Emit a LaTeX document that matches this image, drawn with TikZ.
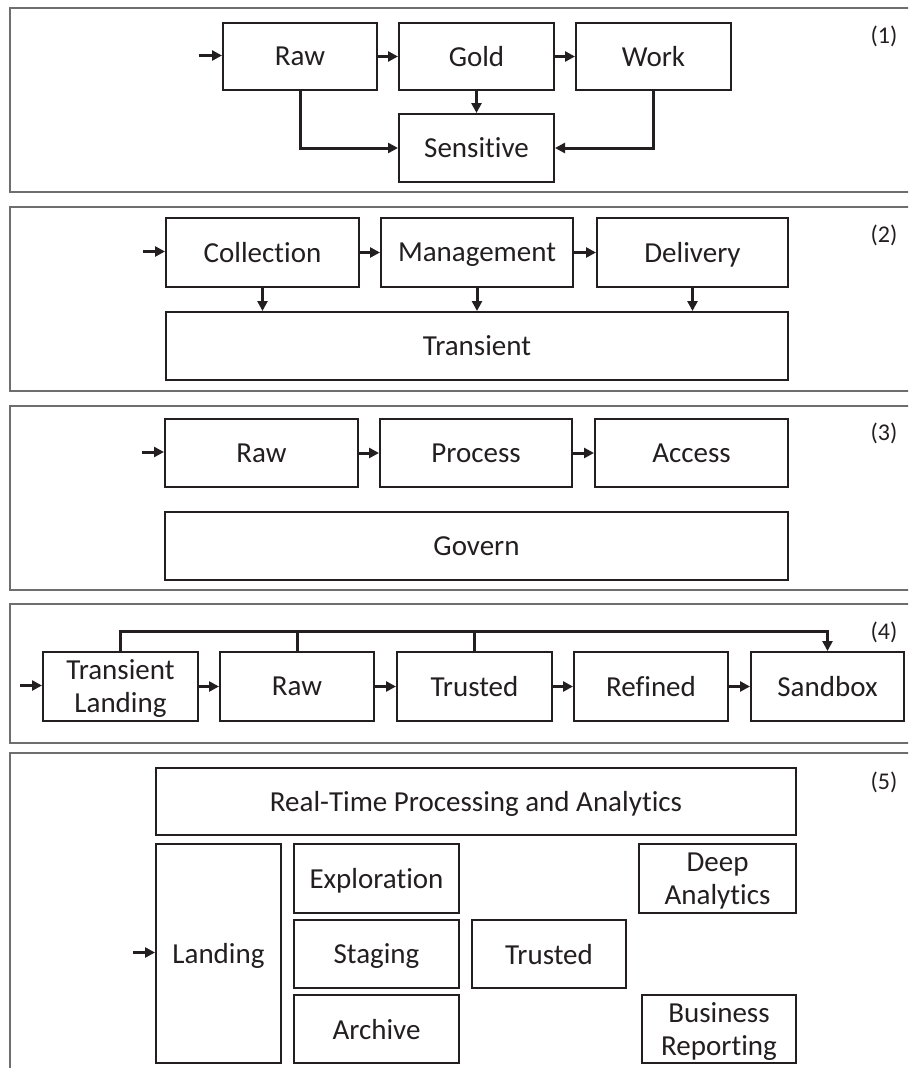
\documentclass[tikz,border=0pt]{standalone}
\usepackage{fontspec}
\setmainfont{Carlito}[Ligatures=NoCommon]
\usetikzlibrary{arrows.meta}
\definecolor{ink}{HTML}{231F20}
\definecolor{framecol}{HTML}{6E6E6E}
\tikzset{
  box/.style={draw=ink, line width=2pt, rectangle, inner sep=0pt, align=center,
    text=ink, text depth=0pt, font=\fontsize{29}{33}\selectfont},
  frame/.style={draw=framecol, line width=1.3pt},
  conn/.style={draw=ink, line width=3pt, line join=miter},
  arr/.style={conn, -{Triangle[length=10pt,width=10pt]}},
  tag/.style={text=ink, font=\fontsize{24}{28}\selectfont, inner sep=0pt}
}
% box from its top-left corner (x1,y1) to its bottom-right corner (x2,y2)
\newcommand\mkbox[6]{%
  \node[box, anchor=north west, minimum width={#4pt-#2pt}, minimum height={#5pt-#3pt}]
    (#1) at (#2,#3) {#6};}
\begin{document}
\begin{tikzpicture}[x=1pt, y=-1pt]
\useasboundingbox[fill=white] (0,0) rectangle (908,1068);
\clip (0,0) rectangle (908,1068);

% panel frames
\draw[frame] (10,8) rectangle (920,192);
\draw[frame] (10,207) rectangle (920,391);
\draw[frame] (10,406) rectangle (920,590);
\draw[frame] (10,604) rectangle (920,743);
\draw[frame] (10,753) rectangle (920,1080);

% (1)
\node[tag] (t1) at (884,36) {(1)};
\mkbox{raw1}{222}{22}{376}{89}{Raw}
\mkbox{gold1}{398}{22}{553}{89}{Gold}
\mkbox{work1}{575}{22}{730}{89}{Work}
\mkbox{sens1}{398}{113}{553}{181}{Sensitive}
\coordinate (in1) at (199,55.5);
\draw[arr] (in1) -- (in1 -| raw1.west);
\draw[arr] (raw1.east) -- (gold1.west);
\draw[arr] (gold1.east) -- (work1.west);
\draw[arr] (raw1.south) |- (sens1.west);
\draw[arr] (gold1.south) -- (sens1.north);
\draw[arr] (work1.south) |- (sens1.east);

% (2)
\node[tag] (t2) at (884,235) {(2)};
\mkbox{coll}{165}{217}{358}{286}{Collection}
\mkbox{mgmt}{380}{217}{572}{286}{Management}
\mkbox{deli}{596}{217}{787}{286}{Delivery}
\mkbox{tran}{165}{311}{787}{379}{Transient}
\coordinate (in2) at (143,251.5);
\draw[arr] (in2) -- (in2 -| coll.west);
\draw[arr] (coll.east) -- (mgmt.west);
\draw[arr] (mgmt.east) -- (deli.west);
\draw[arr] (coll.south) -- (coll.south |- tran.north);
\draw[arr] (mgmt.south) -- (mgmt.south |- tran.north);
\draw[arr] (deli.south) -- (deli.south |- tran.north);

% (3)
\node[tag] (t3) at (884,433) {(3)};
\mkbox{raw3}{164}{418}{357}{486}{Raw}
\mkbox{proc}{379}{418}{571}{486}{Process}
\mkbox{acce}{594}{418}{787}{486}{Access}
\mkbox{gove}{164}{511}{787}{579}{Govern}
\coordinate (in3) at (142,452);
\draw[arr] (in3) -- (in3 -| raw3.west);
\draw[arr] (raw3.east) -- (proc.west);
\draw[arr] (proc.east) -- (acce.west);

% (4)
\node[tag] (t4) at (884,632) {(4)};
\mkbox{tl}{42}{651}{197}{720}{Transient\\Landing}
\mkbox{raw4}{219}{651}{373}{720}{Raw}
\mkbox{trus4}{396}{651}{551}{720}{Trusted}
\mkbox{refi}{573}{651}{727}{720}{Refined}
\mkbox{sand}{750}{651}{903}{720}{Sandbox}
\coordinate (in4) at (20,685.5);
\coordinate (bus) at (0,631);
\draw[arr] (in4) -- (in4 -| tl.west);
\draw[arr] (tl.east) -- (raw4.west);
\draw[arr] (raw4.east) -- (trus4.west);
\draw[arr] (trus4.east) -- (refi.west);
\draw[arr] (refi.east) -- (sand.west);
\draw[arr] (tl.north) -- (tl.north |- bus) -- (bus -| sand.north) -- (sand.north);
\draw[conn] (raw4.north) -- (raw4.north |- bus);
\draw[conn] (trus4.north) -- (trus4.north |- bus);

% (5)
\node[tag] (t5) at (884,782) {(5)};
\mkbox{rtpa}{155}{767}{795}{834}{Real-Time Processing and Analytics}
\mkbox{land}{155}{843}{280}{1062}{Landing}
\mkbox{expl}{293}{843}{458}{912}{Exploration}
\mkbox{stag}{293}{919}{458}{987}{Staging}
\mkbox{arch}{293}{994}{458}{1062}{Archive}
\mkbox{trus5}{471}{919}{625}{987}{Trusted}
\mkbox{deep}{638}{843}{795}{912}{Deep\\Analytics}
\mkbox{busi}{641}{994}{795}{1062}{Business\\Reporting}
\coordinate (in5) at (133,952.5);
\draw[arr] (in5) -- (in5 -| land.west);
\end{tikzpicture}
\end{document}
